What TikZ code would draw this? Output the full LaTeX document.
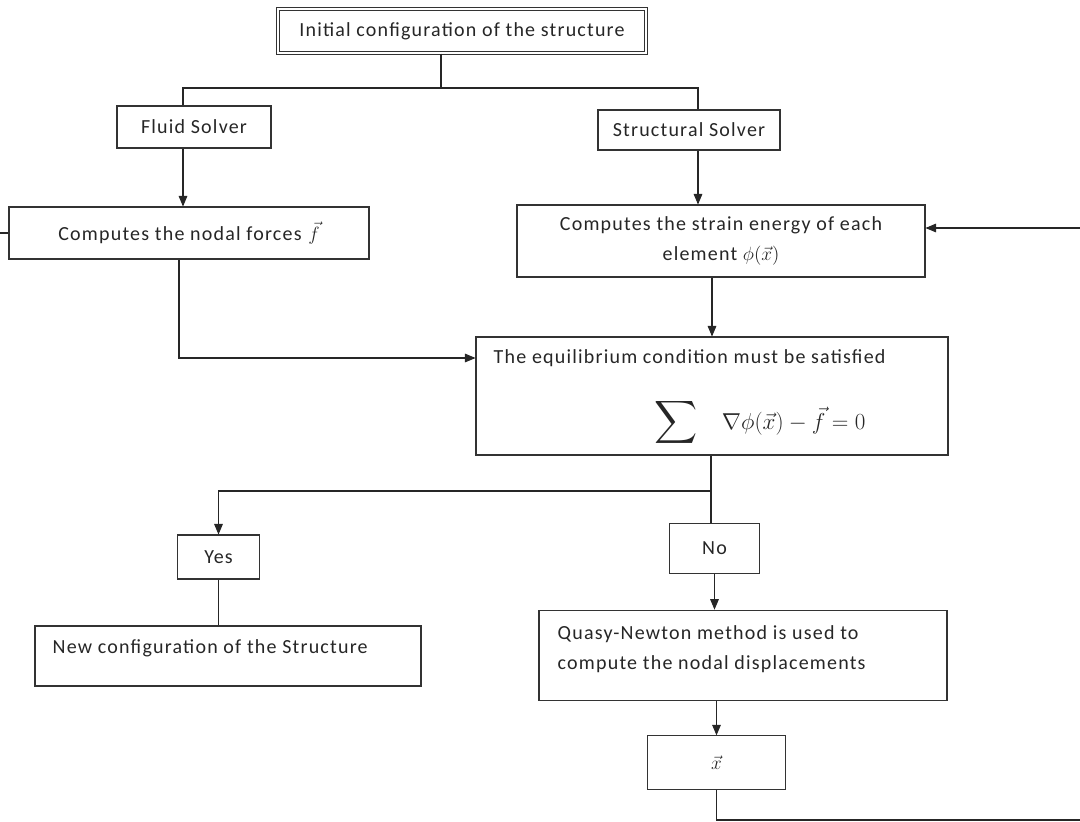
\documentclass[tikz,border=0pt]{standalone}
\usepackage{amsmath}
\usepackage{fontspec}
\setmainfont[LetterSpace=6]{Carlito}
\usetikzlibrary{arrows}

\begin{document}
\begin{tikzpicture}[x=0.75pt,y=-0.75pt,>=triangle 45,
    box/.style={draw=black!80, line width=0.8pt, inner sep=0pt},
    conn/.style={draw=black!85, line width=0.8pt},
    every node/.style={font=\fontsize{15}{23}\selectfont, text=black!85}]
    \useasboundingbox (0,0) rectangle (1080,821);
    % boxes
    \node[box, double, double distance=1.6pt, minimum width=276pt, minimum height=33pt] (init) at (462,31) {Initial configuration of the structure};
    \node[box, minimum width=115.5pt, minimum height=31.5pt] (fluid) at (194,127) {Fluid Solver};
    \node[box, minimum width=136.5pt, minimum height=30pt] (struct) at (689,130) {Structural Solver};
    \node[box, minimum width=270pt, minimum height=39pt] (forces) at (189,233) {Computes the nodal forces\,\,$\vec{f}$};
    \node[box, minimum width=306pt, minimum height=54pt, align=center] (strain) at (721,241) {Computes the strain energy of each\\element $\phi(\vec{x})$};
    \node[box, minimum width=354pt, minimum height=88.5pt] (eq) at (712,396) {};
    \node[anchor=west] (eqtext) at (489,358) {The equilibrium condition must be satisfied};
    \node[anchor=west, font=\fontsize{18}{22}\selectfont] (eqmath) at (650,422) {$\scalebox{1.3}{$\displaystyle\sum$}\quad\nabla\phi(\vec{x})-\vec{f}=0$};
    \node[box, minimum width=62pt, minimum height=33pt] (yes) at (218.5,557) {Yes};
    \node[box, minimum width=68pt, minimum height=37pt] (no) at (714.5,548.5) {No};
    \node[box, minimum width=289.5pt, minimum height=45pt] (new) at (228,656) {};
    \node[anchor=west] (newtext) at (48,648) {New configuration of the Structure};
    \node[box, minimum width=306pt, minimum height=68pt] (quasi) at (743,655.5) {};
    \node[anchor=west, align=left] (quasitext) at (553,649) {Quasy-Newton method is used to\\compute the nodal displacements};
    \node[box, minimum width=103pt, minimum height=40pt] (xbox) at (716.5,762.5) {$\vec{x}$};
    % joints
    \coordinate (split) at (441,88);
    \coordinate (fluidjoint) at (183,88);
    \coordinate (structjoint) at (698,88);
    \coordinate (forcesturn) at (179,358);
    \coordinate (branch) at (711,491);
    \coordinate (loopback) at (1080,228);
    \coordinate (loopend) at (1080,820);
    \coordinate (stub) at (0,233);
    % connectors
    \draw[conn] (init.south -| split) -- (split);
    \draw[conn] (fluidjoint |- fluid.north) -- (fluidjoint) -- (structjoint) -- (structjoint |- struct.north);
    \draw[conn,->] (fluidjoint |- fluid.south) -- (fluidjoint |- forces.north);
    \draw[conn,->] (structjoint |- struct.south) -- (structjoint |- strain.north);
    \draw[conn,->] (loopback) -- (loopback -| strain.east);
    \draw[conn] (stub) -- (stub -| forces.west);
    \draw[conn,->] (eq.north |- strain.south) -- (eq.north);
    \draw[conn,->] (forcesturn |- forces.south) -- (forcesturn) -- (forcesturn -| eq.west);
    \draw[conn,->] (branch |- eq.south) -- (branch) -| (yes.north);
    \draw[conn] (branch) -- (branch |- no.north);
    \draw[conn] (yes.south) -- (yes.south |- new.north);
    \draw[conn,->] (no.south) -- (no.south |- quasi.north);
    \draw[conn,->] (xbox.north |- quasi.south) -- (xbox.north);
    \draw[conn] (xbox.south) -- (xbox.south |- loopend) -- (loopend);
\end{tikzpicture}
\end{document}
